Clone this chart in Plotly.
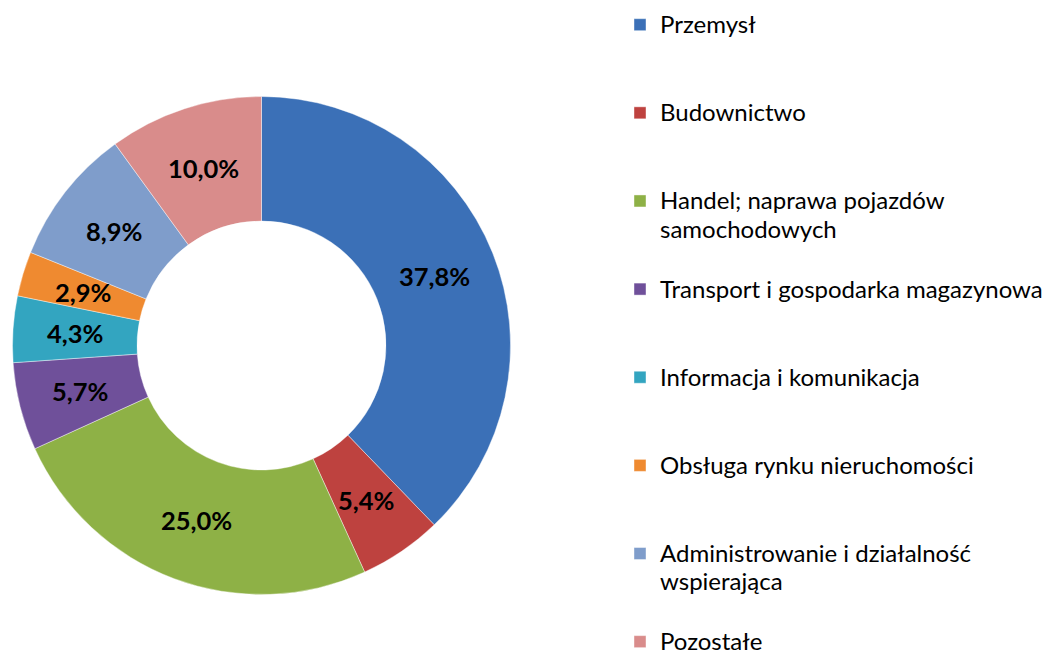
import math
import plotly.graph_objects as go

categories = [
    "Przemysł",
    "Budownictwo",
    "Handel; naprawa pojazdów<br>samochodowych",
    "Transport i gospodarka magazynowa",
    "Informacja i komunikacja",
    "Obsługa rynku nieruchomości",
    "Administrowanie i działalność<br>wspierająca",
    "Pozostałe",
]
values = [37.8, 5.4, 25.0, 5.7, 4.3, 2.9, 8.9, 10.0]
value_labels = ["37,8%", "5,4%", "25,0%", "5,7%", "4,3%", "2,9%", "8,9%", "10,0%"]
colors = ["#3B70B7", "#BE423F", "#8EB146", "#6F509A", "#33A5C0", "#EF8A30", "#7F9DCB", "#D98C8B"]

# pad legend entries to 3 lines so entries are evenly spaced like the original
legend_labels = []
for i, c in enumerate(categories):
    n = c.count("<br>") + 1
    pad = 0 if i == len(categories) - 1 else 3 - n
    legend_labels.append('<span style="font-size:24px">' + c + "</span>" + "<br> " * pad)

W, H = 1059, 656
OFF = 8  # page body margin of the HTML page
cx, cy, R = 261.5 - OFF, 345.5 - OFF, 249
HOLE = 0.5

fig = go.Figure(go.Pie(
    labels=legend_labels,
    values=values,
    textinfo="none",
    hole=HOLE,
    sort=False,
    direction="clockwise",
    rotation=0,
    marker=dict(colors=colors, line=dict(color="rgba(255,255,255,0.7)", width=0.6)),
    domain=dict(x=[(cx - R) / W, (cx + R) / W], y=[(H - cy - R) / H, (H - cy + R) / H]),
))

# value labels centred in the middle of each ring segment
total = sum(values)
rm = R * (1 + HOLE) / 2
cum = 0.0
for v, lab in zip(values, value_labels):
    theta = 2 * math.pi * (cum + v / 2) / total
    cum += v
    px = cx + rm * math.sin(theta)
    py = cy - rm * math.cos(theta)
    fig.add_annotation(
        x=px / W, y=1 - py / H, xref="paper", yref="paper",
        text=lab, showarrow=False, xanchor="center", yanchor="middle",
        font=dict(family="Lato", size=25.5, color="black", weight="bold"),
    )

fig.update_layout(
    width=W, height=H,
    margin=dict(l=0, r=0, t=0, b=0, autoexpand=False),
    paper_bgcolor="white",
    plot_bgcolor="white",
    showlegend=True,
    legend=dict(
        x=612 / W, xanchor="left",
        y=1 + 4 / H, yanchor="top",
        valign="top",
        maxheight=900,
        font=dict(family="Lato", size=21.83, color="black"),
        bgcolor="rgba(0,0,0,0)",
    ),
)

fig.write_html("out.html")
